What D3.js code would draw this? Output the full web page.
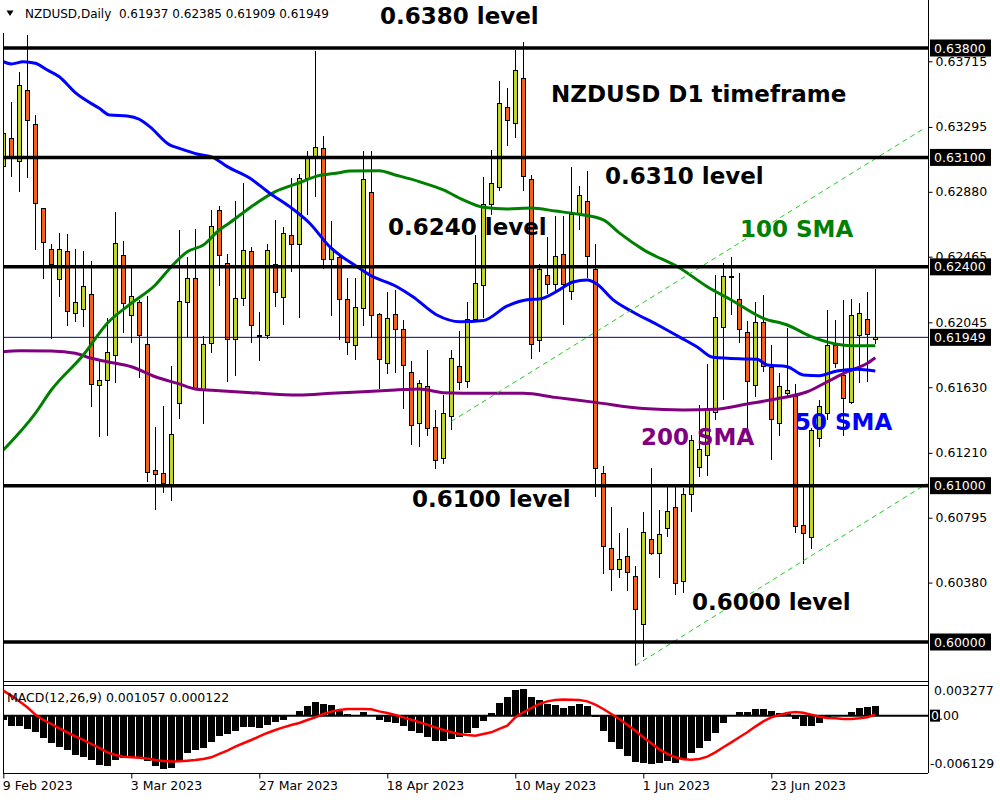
<!DOCTYPE html>
<html><head><meta charset="utf-8">
<script src="https://cdn.jsdelivr.net/npm/d3@7"></script>
<style>
html,body{margin:0;padding:0;background:#fff;}
svg{display:block;}
text{font-family:"DejaVu Sans",sans-serif;}
</style></head>
<body>
<svg id="c" width="1000" height="800"></svg>
<script>
// ---------------- DATA ----------------
const dateTickIdx = [0,16,32,48,64,80,96];
const dateLabels = ["9 Feb 2023","3 Mar 2023","27 Mar 2023","18 Apr 2023","10 May 2023","1 Jun 2023","23 Jun 2023"];
const priceTicks = [0.63715,0.63295,0.62880,0.62465,0.62045,0.61630,0.61210,0.60795,0.60380];
const levels = [0.638,0.631,0.624,0.610,0.600];
const levelLabels = ["0.63800","0.63100","0.62400","0.61000","0.60000"];
const lastPrice = 0.61949;
const macdTicks = [0.003277,-0.006129];

const open = [0.63045,0.63222,0.63073,0.63525,0.63312,0.62775,0.62514,0.62316,0.62501,0.62103,
0.62128,0.62224,0.61642,0.61674,0.61834,0.62474,0.62090,0.62173,0.61906,0.61099,
0.61075,0.60994,0.61527,0.62173,0.62327,0.61617,0.61911,0.62762,0.62423,0.61932,
0.62199,0.62501,0.61956,0.61958,0.62416,0.62205,0.62602,0.62544,0.62966,0.63109,
0.63154,0.62444,0.62459,0.62192,0.61900,0.62135,0.62877,0.62096,0.61779,0.62096,
0.62000,0.61727,0.61399,0.61636,0.61374,0.61171,0.61441,0.61764,0.61665,0.62060,
0.62278,0.62796,0.62908,0.63419,0.63314,0.63608,0.62956,0.61930,0.62345,0.62288,
0.62478,0.62244,0.62736,0.62821,0.62382,0.61078,0.60595,0.60461,0.60546,0.60420,
0.60109,0.60653,0.60567,0.60727,0.60860,0.60386,0.60945,0.61115,0.61196,0.61470,
0.62013,0.62337,0.62188,0.61981,0.61638,0.62045,0.61755,0.61399,0.61591,0.61569,
0.60744,0.60670,0.61303,0.61463,0.61900,0.61708,0.61531,0.61958,0.62065,0.61937];
const high = [0.63301,0.63456,0.63648,0.63883,0.63371,0.62777,0.62544,0.62615,0.62610,0.62514,
0.62501,0.62437,0.61804,0.62071,0.62749,0.62565,0.62391,0.62188,0.62214,0.61377,
0.61510,0.61766,0.62636,0.62465,0.62640,0.61958,0.62764,0.62789,0.62482,0.62819,
0.62934,0.62529,0.62109,0.62544,0.62700,0.62657,0.62966,0.62994,0.63143,0.63781,
0.63237,0.62693,0.62470,0.62327,0.62329,0.63143,0.63143,0.62105,0.62237,0.62252,
0.62060,0.61798,0.61676,0.61868,0.61484,0.61580,0.61868,0.61990,0.62177,0.62604,
0.62975,0.63148,0.63589,0.63547,0.63787,0.63840,0.62988,0.62416,0.62591,0.62725,
0.62725,0.63041,0.62914,0.63014,0.62549,0.61126,0.60866,0.60700,0.60727,0.60486,
0.60833,0.61113,0.60846,0.60993,0.60993,0.60985,0.61324,0.61516,0.61779,0.62348,
0.62423,0.62465,0.62363,0.62054,0.62177,0.62220,0.61900,0.61721,0.62009,0.61649,
0.61005,0.61369,0.61548,0.62124,0.62060,0.62188,0.62192,0.62167,0.62241,0.62385];
const low = [0.63002,0.62977,0.62881,0.62966,0.62508,0.62320,0.61937,0.62209,0.62024,0.62049,
0.62017,0.61505,0.61310,0.61320,0.61655,0.61979,0.61915,0.61687,0.61026,0.60845,
0.60955,0.60904,0.61425,0.61953,0.61610,0.61393,0.61847,0.62279,0.61665,0.61704,
0.62150,0.61911,0.61800,0.61937,0.62141,0.62026,0.62365,0.62071,0.62730,0.62845,
0.62384,0.62088,0.61932,0.61836,0.61804,0.62024,0.61943,0.61617,0.61715,0.61719,
0.61489,0.61258,0.61250,0.61320,0.61105,0.61139,0.61356,0.61612,0.61623,0.62047,
0.62073,0.62732,0.62882,0.63174,0.63224,0.62882,0.61812,0.61855,0.62226,0.62239,
0.62031,0.62190,0.62636,0.62331,0.60928,0.60434,0.60328,0.60407,0.60328,0.59849,
0.59902,0.60554,0.60407,0.60674,0.60301,0.60314,0.60834,0.61058,0.61062,0.61420,
0.61548,0.62092,0.61911,0.61335,0.61569,0.61729,0.61164,0.61318,0.61561,0.60695,
0.60497,0.60593,0.61250,0.61420,0.61753,0.61318,0.61523,0.61659,0.61665,0.61909];
const close = [0.63254,0.63105,0.63563,0.63333,0.62807,0.62557,0.62416,0.62514,0.62113,0.62173,
0.62276,0.61649,0.61676,0.61849,0.62551,0.62167,0.62212,0.61962,0.61086,0.61073,
0.61015,0.61329,0.62180,0.62327,0.61621,0.61905,0.62659,0.62474,0.61932,0.62199,
0.62506,0.62022,0.61962,0.62506,0.62237,0.62615,0.62544,0.62966,0.63090,0.63165,
0.62444,0.62519,0.62188,0.61917,0.62141,0.62960,0.62090,0.61809,0.62071,0.62002,
0.61766,0.61386,0.61655,0.61363,0.61164,0.61463,0.61815,0.61663,0.62065,0.62295,
0.62802,0.62936,0.63442,0.63339,0.63653,0.62975,0.61903,0.62384,0.62288,0.62469,
0.62288,0.62736,0.62855,0.62464,0.61113,0.60608,0.60461,0.60527,0.60442,0.60207,
0.60700,0.60567,0.60687,0.60833,0.60372,0.60945,0.61292,0.61233,0.61484,0.62077,
0.62341,0.62333,0.61996,0.61665,0.62045,0.61761,0.61425,0.61633,0.61610,0.60738,
0.60691,0.61356,0.61505,0.61900,0.61779,0.61559,0.62088,0.62103,0.61964,0.61949];

const sma50 = [[0,0.63712],[1,0.63698],[2.5,0.63712],[4,0.63702],[5.5,0.63659],[7,0.63616],[9,0.63514],[12,0.63414],[13.3,0.63371],[15.5,0.63365],[17,0.63344],[18.3,0.63297],[20.8,0.63180],[22,0.63158],[24.2,0.63122],[26.2,0.63101],[28,0.63041],[30.8,0.62968],[33.3,0.62871],[35.8,0.62785],[38.3,0.62679],[40.8,0.62529],[44.2,0.62401],[45.8,0.62348],[49.2,0.62273],[51.2,0.62209],[54.2,0.62092],[57.1,0.62049],[60,0.62057],[63,0.62150],[65.5,0.62190],[67,0.62194],[69.6,0.62256],[71.2,0.62303],[73,0.62316],[74.2,0.62290],[76.2,0.62190],[78.7,0.62111],[81.7,0.62031],[84.6,0.61949],[86.7,0.61889],[88.7,0.61821],[92.5,0.61811],[94.2,0.61809],[95.5,0.61772],[98,0.61761],[100,0.61708],[102,0.61704],[104.2,0.61734],[106.7,0.61745],[109,0.61734]];
const sma100 = [[0,0.61228],[4,0.61463],[6,0.61612],[10,0.61836],[13,0.62039],[16,0.62167],[19,0.62284],[21,0.62401],[23,0.62497],[25,0.62540],[27,0.62636],[28.3,0.62682],[31,0.62785],[34,0.62881],[37,0.62938],[39,0.62977],[42,0.63002],[43.3,0.63013],[47,0.63015],[49,0.62988],[52,0.62945],[55,0.62892],[57.5,0.62828],[60,0.62781],[63,0.62770],[66,0.62776],[69,0.62757],[72,0.62736],[75,0.62701],[77,0.62617],[80,0.62510],[84.6,0.62391],[88,0.62273],[91,0.62188],[95,0.62071],[98,0.62028],[101,0.61953],[104,0.61907],[106,0.61896],[109,0.61896]];
const sma200 = [[0,0.61857],[2,0.61864],[6,0.61862],[9,0.61847],[11,0.61815],[13,0.61793],[16,0.61761],[19,0.61697],[22,0.61651],[24,0.61619],[27,0.61608],[31,0.61595],[37,0.61580],[41,0.61591],[45,0.61601],[49,0.61612],[52,0.61619],[55,0.61595],[60,0.61591],[65,0.61591],[69,0.61565],[74,0.61533],[80,0.61493],[85,0.61484],[89,0.61489],[93,0.61523],[97,0.61559],[100.5,0.61601],[103,0.61665],[105.5,0.61729],[108,0.61783],[109,0.61819]];
const trend1 = [[56,0.61411],[115,0.63282]];
const trend2 = [[79,0.59849],[115.5,0.61015]];

const macd = [-0.00046,-0.00110,-0.00110,-0.00142,-0.00178,-0.00242,-0.00296,-0.00338,-0.00367,-0.00417,
-0.00445,-0.00474,-0.00527,-0.00534,-0.00474,-0.00452,-0.00445,-0.00452,-0.00488,-0.00534,
-0.00570,-0.00559,-0.00488,-0.00402,-0.00367,-0.00345,-0.00285,-0.00214,-0.00196,-0.00160,
-0.00125,-0.00125,-0.00135,-0.00096,-0.00071,-0.00043,-0.00004,0.00053,0.00107,0.00150,
0.00125,0.00114,0.00053,0.00018,0.00004,0.00039,0.00007,-0.00043,-0.00064,-0.00075,
-0.00107,-0.00160,-0.00182,-0.00224,-0.00267,-0.00267,-0.00246,-0.00231,-0.00189,-0.00135,
-0.00053,0.00028,0.00135,0.00196,0.00274,0.00285,0.00196,0.00167,0.00125,0.00114,
0.00082,0.00103,0.00125,0.00103,-0.00018,-0.00160,-0.00278,-0.00356,-0.00428,-0.00492,
-0.00506,-0.00517,-0.00506,-0.00481,-0.00506,-0.00467,-0.00399,-0.00346,-0.00274,-0.00185,
-0.00075,-0.00004,0.00039,0.00039,0.00071,0.00071,0.00046,0.00032,0.00025,-0.00036,
-0.00107,-0.00107,-0.00078,-0.00028,-0.00007,-0.00004,0.00036,0.00082,0.00089,0.001057];
const signal = [0.00267,0.00214,0.00153,0.00089,0.00011,-0.00046,-0.00089,-0.00135,-0.00178,-0.00221,
-0.00260,-0.00303,-0.00345,-0.00392,-0.00420,-0.00438,-0.00445,-0.00449,-0.00459,-0.00473,
-0.00484,-0.00491,-0.00488,-0.00481,-0.00473,-0.00463,-0.00445,-0.00409,-0.00374,-0.00331,
-0.00295,-0.00260,-0.00221,-0.00185,-0.00153,-0.00125,-0.00100,-0.00078,-0.00046,-0.00018,
0.00018,0.00043,0.00061,0.00071,0.00071,0.00071,0.00068,0.00046,0.00028,0.00007,
-0.00018,-0.00043,-0.00071,-0.00096,-0.00125,-0.00153,-0.00178,-0.00196,-0.00206,-0.00214,
-0.00196,-0.00178,-0.00142,-0.00107,-0.00018,0.00036,0.00082,0.00125,0.00153,0.00167,
0.00174,0.00171,0.00167,0.00153,0.00117,0.00071,0.00018,-0.00036,-0.00096,-0.00160,
-0.00231,-0.00295,-0.00360,-0.00409,-0.00445,-0.00466,-0.00470,-0.00463,-0.00438,-0.00392,
-0.00338,-0.00285,-0.00231,-0.00178,-0.00117,-0.00061,-0.00018,0.00007,0.00028,0.00039,
0.00032,0.00011,-0.00011,-0.00025,-0.00028,-0.00036,-0.00036,-0.00028,-0.00018,0.000122];

// ---------------- DRAW ----------------
const svg = d3.select("#c");
svg.append("rect").attr("width",1000).attr("height",800).attr("fill","#fff");

const x = d3.scaleLinear().domain([0,115]).range([3.3,923.3]);
const y = d3.scaleLinear().domain([0.600,0.638]).range([642,48]);
const ym = d3.scaleLinear().domain([-0.006129,0.003277]).range([773,685]);

const defs = svg.append("defs");
defs.append("clipPath").attr("id","cm").append("rect").attr("x",3).attr("y",0).attr("width",925).attr("height",681);
defs.append("clipPath").attr("id","cd").append("rect").attr("x",3).attr("y",685).attr("width",925).attr("height",88);

const main = svg.append("g").attr("clip-path","url(#cm)");

// candles
const bull = "#c0d42c", bear = "#f2601f";
const idx = d3.range(open.length);
const cg = main.append("g").attr("shape-rendering","crispEdges");
idx.forEach(i=>{
  const cx = Math.round(x(i));
  cg.append("line").attr("x1",cx+0.5).attr("x2",cx+0.5)
    .attr("y1",y(high[i])).attr("y2",y(low[i])).attr("stroke","#000").attr("stroke-width",1);
  const top = y(Math.max(open[i],close[i])), bot = y(Math.min(open[i],close[i]));
  cg.append("rect").attr("x",cx-2+0.5).attr("y",top).attr("width",4).attr("height",Math.max(1,bot-top))
    .attr("fill", close[i]>=open[i]?bull:bear).attr("stroke","#000").attr("stroke-width",1);
});

// current price line
main.append("line").attr("x1",3).attr("x2",928).attr("y1",y(lastPrice)).attr("y2",y(lastPrice))
  .attr("stroke","#000080").attr("stroke-width",1);

// SMAs
const ln = d3.line().x(d=>x(d[0])).y(d=>y(d[1])).curve(d3.curveMonotoneX);
[[sma200,"#800080"],[sma100,"#008000"],[sma50,"#0000ff"]].forEach(([s,c])=>{
  main.append("path").attr("d",ln(s)).attr("fill","none").attr("stroke",c).attr("stroke-width",3);
});

// trend lines
const tl = d3.line().x(d=>x(d[0])).y(d=>y(d[1]));
[trend1,trend2].forEach(t=>{
  main.append("path").attr("d",tl(t)).attr("fill","none").attr("stroke","#22cc22")
    .attr("stroke-width",1).attr("stroke-dasharray","5,4");
});

// level lines
levels.forEach(l=>{
  main.append("line").attr("x1",3).attr("x2",928).attr("y1",y(l)).attr("y2",y(l))
    .attr("stroke","#000").attr("stroke-width",3.5);
});

// annotations
const ann = [
  ["0.6380 level",380,24,"#000"],
  ["NZDUSD D1 timeframe",551,102,"#000"],
  ["0.6310 level",605,184,"#000"],
  ["0.6240 level",388,235,"#000"],
  ["100 SMA",740,237,"#008000"],
  ["0.6100 level",412,507,"#000"],
  ["200 SMA",641,445,"#800080"],
  ["50 SMA",795,430,"#0000ff"],
  ["0.6000 level",692,610,"#000"]
];
ann.forEach(([t,ax,ay,c])=>{
  svg.append("text").attr("x",ax).attr("y",ay).text(t).attr("fill",c)
    .style("font-family","'DejaVu Sans',sans-serif").style("font-weight","bold").style("font-size","23px");
});

// header
svg.append("path").attr("d","M6.5,10.5 L13.5,10.5 L10,16 Z").attr("fill","#000");
svg.append("text").attr("x",25).attr("y",18).style("font-size","12px").style("white-space","pre")
  .attr("fill","#000").text("NZDUSD,Daily  0.61937 0.62385 0.61909 0.61949");

// frames
const fr = svg.append("g").attr("shape-rendering","crispEdges").attr("stroke","#000").attr("stroke-width",1);
fr.append("line").attr("x1",3.5).attr("x2",3.5).attr("y1",33).attr("y2",773);
fr.append("line").attr("x1",928.5).attr("x2",928.5).attr("y1",0).attr("y2",773);
fr.append("line").attr("x1",3).attr("x2",928).attr("y1",681.5).attr("y2",681.5);
fr.append("line").attr("x1",3).attr("x2",928).attr("y1",685.5).attr("y2",685.5);
fr.append("line").attr("x1",3).attr("x2",928).attr("y1",773.5).attr("y2",773.5);

// right price axis
const ay = svg.append("g").attr("transform","translate(928.5,0)")
  .call(d3.axisRight(y).tickValues(priceTicks).tickFormat(d3.format(".5f")).tickSize(4).tickPadding(3));
ay.select(".domain").remove();
ay.selectAll("text").style("font-family","'DejaVu Sans',sans-serif").style("font-size","12.5px").attr("fill","#000");
ay.selectAll("line").attr("stroke","#000");

// level labels (black boxes)
const lbl = levels.map((l,i)=>[l,levelLabels[i]]).concat([[lastPrice,"0.61949"]]);
lbl.forEach(([l,t])=>{
  svg.append("rect").attr("x",930).attr("y",y(l)-8.5).attr("width",61).attr("height",17).attr("fill","#000");
  svg.append("text").attr("x",934).attr("y",y(l)+4.5).text(t).attr("fill","#fff")
    .style("font-size","12.5px");
});

// MACD panel
const mg = svg.append("g").attr("clip-path","url(#cd)");
mg.append("g").attr("shape-rendering","crispEdges").selectAll("rect").data(idx).join("rect")
  .attr("x",i=>Math.round(x(i))-3).attr("width",7)
  .attr("y",i=>ym(Math.max(0,macd[i]))).attr("height",i=>Math.abs(ym(macd[i])-ym(0)))
  .attr("fill","#000");
mg.append("line").attr("x1",3).attr("x2",928).attr("y1",ym(0)).attr("y2",ym(0))
  .attr("stroke","#000").attr("stroke-width",2);
mg.append("path").attr("d",d3.line().x(i=>x(i)).y(i=>ym(signal[i]))(idx))
  .attr("fill","none").attr("stroke","#ff0000").attr("stroke-width",2.5);
svg.append("text").attr("x",7).attr("y",701.5).style("font-size","12.5px").attr("fill","#000")
  .text("MACD(12,26,9) 0.001057 0.000122");

// MACD axis labels
macdTicks.forEach(v=>{
  svg.append("text").attr("x",v<0?930:934).attr("y",(v>0?ym(v)+10:ym(v)-5)).text(v.toFixed(6))
    .style("font-size","12.5px").attr("fill","#000");
});
svg.append("rect").attr("x",930).attr("y",ym(0)-6).attr("width",10).attr("height",12).attr("fill","#000");
const zt = svg.append("text").attr("x",931).attr("y",ym(0)+4.5).style("font-size","12.5px");
zt.append("tspan").attr("fill","#fff").text("0");
zt.append("tspan").attr("fill","#000").text(".00");

// date axis
const ax = svg.append("g").attr("transform","translate(0,773.5)")
  .call(d3.axisBottom(x).tickValues(dateTickIdx).tickFormat((d,i)=>dateLabels[i]).tickSize(5).tickPadding(3));
ax.select(".domain").remove();
ax.selectAll("line").attr("stroke","#000");
ax.selectAll("text").attr("text-anchor","start").attr("x",-1)
  .style("font-family","'DejaVu Sans',sans-serif").style("font-size","12.5px").attr("fill","#000");
</script>
</body></html>
